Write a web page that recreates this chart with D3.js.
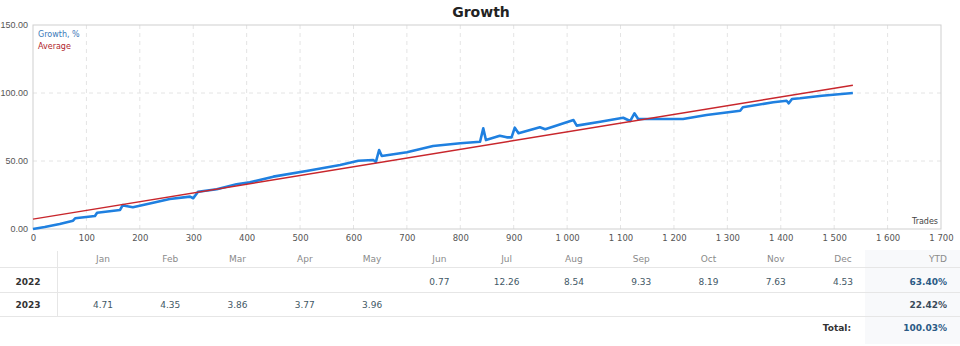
<!DOCTYPE html>
<html>
<head>
<meta charset="utf-8">
<script src="https://cdn.jsdelivr.net/npm/d3@7"></script>
<style>
  body { margin: 0; background: #fff; }
  svg text { font-family: 'DejaVu Sans', Verdana, sans-serif; }
</style>
</head>
<body>
<div id="chart"></div>
<script>
// growth curve, [trades, growth %]
const growth = [
  [0, 0], [22, 1.5], [50, 3.7], [75, 6.1], [79, 7.9], [116, 9.6], [120, 12.0],
  [163, 14.0], [168, 17.6], [174, 16.9], [187, 16.0], [225, 19.3], [256, 22.1],
  [294, 23.8], [300, 22.6], [309, 27.4], [344, 29.2], [381, 32.9], [406, 34.3],
  [450, 38.5], [512, 42.6], [575, 47.1], [609, 50.2], [637, 50.7], [642, 49.3],
  [648, 58.1], [653, 53.7], [700, 56.4], [749, 61.0], [800, 63.0], [837, 64.2],
  [843, 74.0], [848, 65.4], [874, 68.6], [887, 67.4], [896, 67.4], [902, 74.5],
  [909, 70.4], [949, 74.8], [959, 73.3], [1012, 80.1], [1018, 76.0], [1062, 78.9],
  [1105, 81.8], [1118, 79.4], [1126, 85.1], [1133, 80.9], [1193, 80.9], [1217, 80.9],
  [1261, 83.8], [1324, 87.0], [1329, 89.5], [1386, 93.2], [1411, 94.3], [1415, 92.4],
  [1421, 95.6], [1436, 96.1], [1477, 98.0], [1535, 100.0]
]
// average (trend) line end points
const average = [[0, 7.3], [1535, 105.7]]

const xTicks = d3.range(0, 1701, 100)
const yTicks = [0, 50, 100, 150]

const months = ['Jan', 'Feb', 'Mar', 'Apr', 'May', 'Jun', 'Jul', 'Aug', 'Sep', 'Oct', 'Nov', 'Dec']
const years = ['2022', '2023']
const returns2022 = [null, null, null, null, null, 0.77, 12.26, 8.54, 9.33, 8.19, 7.63, 4.53]
const returns2023 = [4.71, 4.35, 3.86, 3.77, 3.96, null, null, null, null, null, null, null]
const ytd = ['63.40%', '22.42%']
const total = '100.03%'

const W = 960
const H = 346
const margin = { top: 25, right: 19, bottom: 117, left: 33 }
const width = W - margin.left - margin.right
const height = H - margin.top - margin.bottom

const svg = d3.select('#chart').append('svg')
  .attr('width', W)
  .attr('height', H)

svg.append('text')
  .text('Growth')
  .attr('x', 481)
  .attr('y', 17)
  .attr('text-anchor', 'middle')
  .attr('font-size', '14px')
  .attr('font-weight', 'bold')
  .attr('fill', '#222')

const g = svg.append('g')
  .attr('transform', 'translate(' + margin.left + ',' + margin.top + ')')

const x = d3.scaleLinear().domain([0, 1700]).range([0, width])
const y = d3.scaleLinear().domain([0, 150]).range([height, 0])

// grid
g.append('g')
  .selectAll('line')
  .data(xTicks.slice(1, -1))
  .enter()
  .append('line')
  .attr('x1', d => x(d)).attr('x2', d => x(d))
  .attr('y1', 0).attr('y2', height)
  .attr('stroke', '#e4e4e4')
  .attr('stroke-dasharray', '4,4')

g.append('g')
  .selectAll('line')
  .data([50, 100])
  .enter()
  .append('line')
  .attr('x1', 0).attr('x2', width)
  .attr('y1', d => y(d)).attr('y2', d => y(d))
  .attr('stroke', '#e4e4e4')
  .attr('stroke-dasharray', '4,4')

g.append('rect')
  .attr('width', width)
  .attr('height', height)
  .attr('fill', 'none')
  .attr('stroke', '#cfcfcf')

// axes
const fmtX = d => d3.format(',')(d).replace(',', ' ')
const xAxis = d3.axisBottom(x).tickValues(xTicks).tickFormat(fmtX).tickSize(0).tickPadding(6)
g.append('g')
  .attr('class', 'x-axis')
  .attr('transform', 'translate(0,' + height + ')')
  .call(xAxis)

const yAxis = d3.axisLeft(y).tickValues(yTicks).tickFormat(d3.format('.2f')).tickSize(0).tickPadding(5)
g.append('g')
  .attr('class', 'y-axis')
  .call(yAxis)

g.selectAll('.domain').remove()
g.selectAll('.x-axis text')
  .attr('font-size', '8.5px')
  .attr('fill', '#555')
g.selectAll('.y-axis text')
  .attr('font-size', '9px')
  .attr('fill', '#555')
  .style('font-family', "'Liberation Sans', Arial, sans-serif")

g.append('text')
  .text('Trades')
  .attr('x', width - 3)
  .attr('y', height - 5)
  .attr('text-anchor', 'end')
  .attr('font-size', '8px')
  .attr('fill', '#444')

// lines
const line = d3.line().x(d => x(d[0])).y(d => y(d[1]))

g.append('path')
  .datum(growth)
  .attr('d', line)
  .attr('fill', 'none')
  .attr('stroke', '#1f80e0')
  .attr('stroke-width', 2.6)
  .attr('stroke-linejoin', 'round')

g.append('path')
  .datum(average)
  .attr('d', line)
  .attr('fill', 'none')
  .attr('stroke', '#c8262c')
  .attr('stroke-width', 1.4)

// legend
g.append('text').text('Growth, %')
  .attr('x', 5).attr('y', 12)
  .attr('font-size', '8px').attr('fill', '#3a78b8')
g.append('text').text('Average')
  .attr('x', 5).attr('y', 24)
  .attr('font-size', '8px').attr('fill', '#b0252e')

// table
const table = svg.append('g')
const colX = d3.scalePoint().domain(months).range([103, 843])
const rowY = d3.scalePoint().domain(['head'].concat(years, ['total'])).range([259, 328])

table.append('rect')
  .attr('x', 865).attr('y', 250)
  .attr('width', 95).attr('height', 94)
  .attr('fill', '#f8f9fb')

table.selectAll('.hline')
  .data([267.5, 292.5, 316.5])
  .enter()
  .append('line')
  .attr('x1', 0).attr('x2', W)
  .attr('y1', d => d).attr('y2', d => d)
  .attr('stroke', '#e6e6e6')

table.append('line')
  .attr('x1', 57.5).attr('x2', 57.5)
  .attr('y1', 251).attr('y2', 316)
  .attr('stroke', '#e6e6e6')

table.selectAll('.month')
  .data(months)
  .enter()
  .append('text')
  .text(d => d)
  .attr('x', d => colX(d))
  .attr('y', rowY('head') + 3)
  .attr('text-anchor', 'middle')
  .attr('font-size', '9px')
  .attr('fill', '#8a8a8a')

table.append('text').text('YTD')
  .attr('x', 947).attr('y', rowY('head') + 3)
  .attr('text-anchor', 'end')
  .attr('font-size', '9px')
  .attr('fill', '#8a8a8a')

const rows = [returns2022, returns2023]
rows.forEach((vals, i) => {
  const yr = years[i]
  table.append('text').text(yr)
    .attr('x', 28).attr('y', rowY(yr) + 3)
    .attr('text-anchor', 'middle')
    .attr('font-size', '9px')
    .attr('font-weight', 'bold')
    .attr('fill', '#333')

  table.selectAll('.v' + yr)
    .data(vals.map((v, j) => ({ v: v, m: months[j] })).filter(d => d.v !== null))
    .enter()
    .append('text')
    .text(d => d3.format('.2f')(d.v))
    .attr('x', d => colX(d.m))
    .attr('y', rowY(yr) + 3)
    .attr('text-anchor', 'middle')
    .attr('font-size', '9px')
    .attr('fill', '#3f5866')

  table.append('text').text(ytd[i])
    .attr('x', 947).attr('y', rowY(yr) + 3)
    .attr('text-anchor', 'end')
    .attr('font-size', '9px')
    .attr('font-weight', 'bold')
    .attr('fill', i === 0 ? '#2b5a85' : '#3a4a5a')
})

table.append('text').text('Total:')
  .attr('x', 851).attr('y', rowY('total') + 3)
  .attr('text-anchor', 'end')
  .attr('font-size', '9px')
  .attr('font-weight', 'bold')
  .attr('fill', '#333')

table.append('text').text(total)
  .attr('x', 947).attr('y', rowY('total') + 3)
  .attr('text-anchor', 'end')
  .attr('font-size', '9px')
  .attr('font-weight', 'bold')
  .attr('fill', '#2b5a85')
</script>
</body>
</html>
